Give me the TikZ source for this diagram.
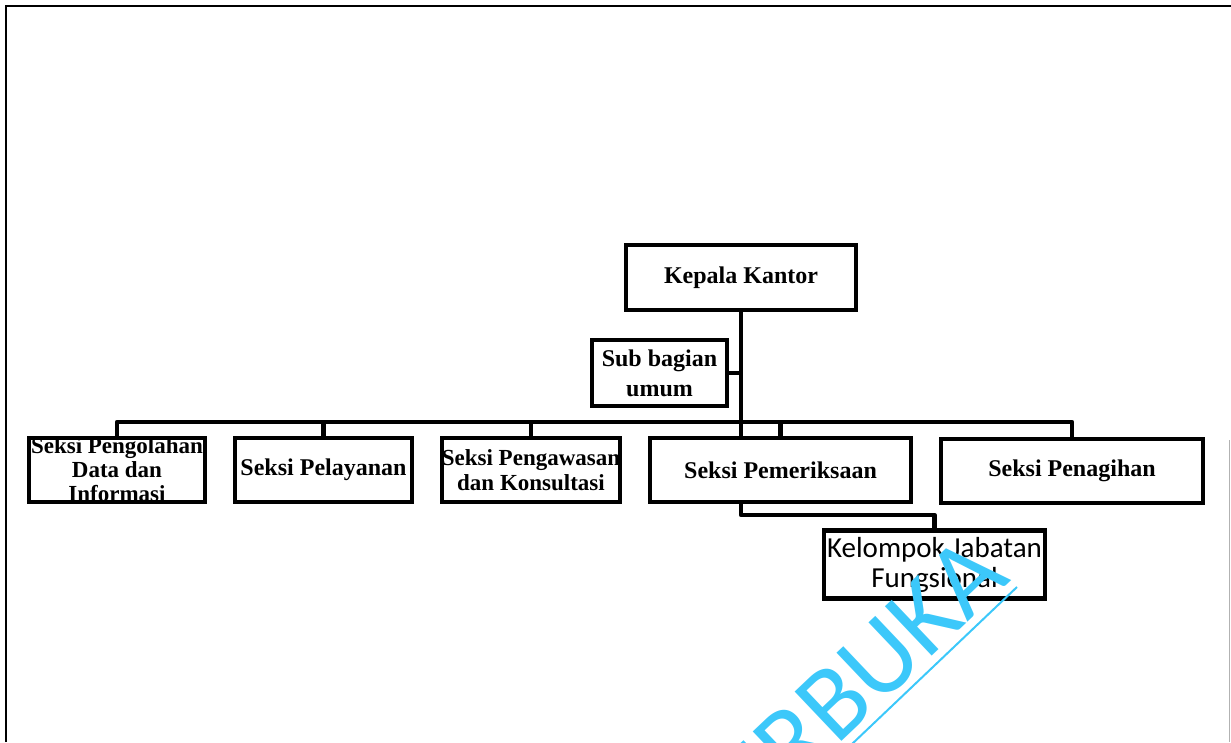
\documentclass[tikz,border=0pt]{standalone}
\usepackage{fontspec}
\setmainfont{Liberation Serif}
\newfontfamily\calfont{Carlito}
\usepackage{tikz}
\usetikzlibrary{calc,backgrounds}
\definecolor{wmcol}{RGB}{60,200,250}

\begin{document}
\begin{tikzpicture}[x=1pt,y=-1pt,
  unit/.style={draw,line width=4.5pt,fill=white,inner sep=0pt,align=center,
    font=\bfseries\fontsize{24}{26}\selectfont},
  conn/.style={line width=4.5pt,line join=round}]
  \useasboundingbox (0,0) rectangle (1231,742);
  \draw[line width=2.5pt] (6,742) -- (6,6) -- (1231,6);
  \draw[gray!60,line width=1pt] (1229,440) -- (1229,742);

  \node[unit,minimum width=230,minimum height=65] (kepala) at (741,277.5) {Kepala Kantor};
  \node[unit,minimum width=135,minimum height=66,font=\bfseries\fontsize{24}{30}\selectfont]
     (sub) at (659.5,373) {Sub bagian\\umum};
  \node[unit,minimum width=176,minimum height=64,font=\bfseries\fontsize{23}{24}\selectfont]
     (pengolahan) at (117,470) {Seksi Pengolahan\\Data dan\\Informasi};
  \node[unit,minimum width=177,minimum height=64] (pelayanan) at (323.5,470) {Seksi Pelayanan};
  \node[unit,minimum width=176,minimum height=64,font=\bfseries\fontsize{23}{25}\selectfont]
     (pengawasan) at (531,470) {Seksi Pengawasan\\dan Konsultasi};
  \node[unit,minimum width=261,minimum height=64] (pemeriksaan) at (780.5,470) {Seksi Pemeriksaan};
  \node[unit,minimum width=262,minimum height=64] (penagihan) at (1072,471) {Seksi Penagihan};
  \node[unit,minimum width=221,minimum height=68,font=\calfont\fontsize{29}{30}\selectfont]
     (kelompok) at (934.5,564.5) {Kelompok Jabatan\\Fungsional};

  \coordinate (bus) at (741,422);
  \coordinate (split) at (741,515);
  \begin{scope}[on background layer]
    \draw[conn] (kepala.south) -- (split) -| (kelompok.north);
    \draw[conn] (sub.east) -- (sub.east -| kepala.south);
    \draw[conn] (pengolahan.north) |- (bus) -| (penagihan.north);
    \foreach \s in {pelayanan,pengawasan,pemeriksaan}
      \draw[conn] (\s.north) -- (\s.north |- bus);
  \end{scope}

  \node[rotate=43.5,text=wmcol,anchor=base east,inner sep=0pt,
    font=\calfont\fontsize{106}{106}\selectfont] (wm) at (1012,580) {TERBUKA};
  \draw[wmcol,line width=2pt] (1017,587) -- ++(-330,314);
\end{tikzpicture}
\end{document}
